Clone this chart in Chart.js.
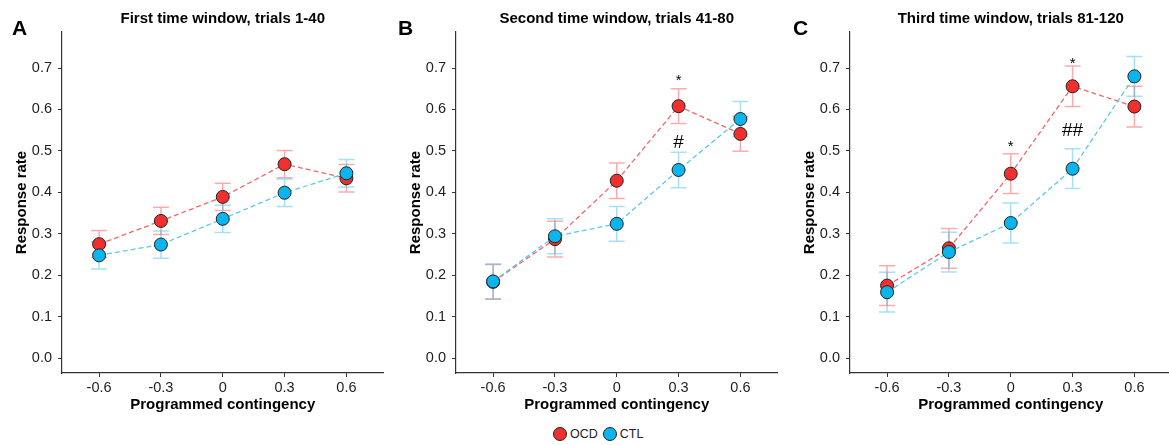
<!DOCTYPE html>
<html>
<head>
<meta charset="utf-8">
<script src="https://cdn.jsdelivr.net/npm/chart.js@4.4.1/dist/chart.umd.min.js"></script>
<style>
  body { margin: 0; width: 1169px; height: 445px; overflow: hidden; background: #fff; position: relative;
         font-family: "Liberation Sans", Arial, sans-serif; }
  .panel { position: absolute; top: 0; width: 391px; height: 420px; }
  .legend { position: absolute; left: 553px; top: 427px; height: 14px; display: flex; align-items: center;
            font-size: 12.5px; color: #222; }
  .dot { width: 12px; height: 12px; border-radius: 50%; border: 1px solid #222; margin-right: 3px; }
  .legend span.txt { margin-right: 5px; }
</style>
</head>
<body>
<div class="panel" style="left:0px"><canvas id="chartA" width="391" height="420"></canvas></div>
<div class="panel" style="left:394px"><canvas id="chartB" width="391" height="420"></canvas></div>
<div class="panel" style="left:788px"><canvas id="chartC" width="391" height="420"></canvas></div>
<div class="legend">
  <div class="dot" style="background:#F0302F"></div><span class="txt">OCD</span>
  <div class="dot" style="background:#0AB4EC"></div><span class="txt">CTL</span>
</div>
<script>
// x values and tick labels
const contingency = [-0.6, -0.3, 0, 0.3, 0.6];
const xTicks = [-0.6, -0.3, 0, 0.3, 0.6];
const xTickLabels = ['-0.6', '-0.3', '0', '0.3', '0.6'];
const yTicks = [0, 0.1, 0.2, 0.3, 0.4, 0.5, 0.6, 0.7];
const yTickLabels = ['0.0', '0.1', '0.2', '0.3', '0.4', '0.5', '0.6', '0.7'];

// panel A: trials 1-40
const ocdA = [0.275, 0.331, 0.389, 0.468, 0.434];
const ocdErrA = [0.033, 0.033, 0.033, 0.033, 0.033];
const ctlA = [0.248, 0.274, 0.336, 0.399, 0.446];
const ctlErrA = [0.033, 0.033, 0.033, 0.033, 0.033];

// panel B: trials 41-80
const ocdB = [0.184, 0.287, 0.428, 0.608, 0.541];
const ocdErrB = [0.042, 0.043, 0.043, 0.042, 0.042];
const ctlB = [0.185, 0.294, 0.324, 0.454, 0.577];
const ctlErrB = [0.042, 0.042, 0.042, 0.043, 0.042];

// panel C: trials 81-120
const ocdC = [0.175, 0.265, 0.445, 0.656, 0.607];
const ocdErrC = [0.048, 0.048, 0.048, 0.049, 0.049];
const ctlC = [0.159, 0.256, 0.326, 0.457, 0.680];
const ctlErrC = [0.048, 0.048, 0.048, 0.048, 0.048];

// significance marks
const notesB = ['*', '#'];
const notesXB = [0.3, 0.3];
const notesYB = [0.677, 0.523];
const notesC = ['*', '*', '##'];
const notesXC = [0, 0.3, 0.3];
const notesYC = [0.517, 0.718, 0.551];

const OCD_FILL = '#F0302F', CTL_FILL = '#0AB4EC';
const OCD_LINE = '#F26868', CTL_LINE = '#5CC8EE';
const OCD_ERR = 'rgba(240, 70, 70, 0.45)', CTL_ERR = 'rgba(40, 180, 235, 0.42)';
const FONT = '"Liberation Sans", Arial, sans-serif';

function toPoints(vals) {
    return vals.map((v, i) => ({ x: contingency[i], y: v }));
}

function makePanel(id, p) {
    const decor = {
        id: 'decor',
        beforeDatasetsDraw(chart) {
            const { ctx, scales: { x, y } } = chart;
            ctx.save();
            ctx.lineWidth = 1.5;
            [[p.ocd, p.ocdErr, OCD_ERR], [p.ctl, p.ctlErr, CTL_ERR]].forEach(([means, errs, col]) => {
                ctx.strokeStyle = col;
                means.forEach((m, i) => {
                    const px = x.getPixelForValue(contingency[i]);
                    const hi = y.getPixelForValue(m + errs[i]);
                    const lo = y.getPixelForValue(m - errs[i]);
                    ctx.beginPath();
                    ctx.moveTo(px, hi); ctx.lineTo(px, lo);
                    ctx.moveTo(px - 8, hi); ctx.lineTo(px + 8, hi);
                    ctx.moveTo(px - 8, lo); ctx.lineTo(px + 8, lo);
                    ctx.stroke();
                });
            });
            ctx.restore();
        },
        afterDraw(chart) {
            const { ctx, chartArea, scales: { x, y } } = chart;
            ctx.save();
            ctx.fillStyle = '#000';
            ctx.textAlign = 'center';
            ctx.textBaseline = 'middle';
            ctx.font = 'bold 15px ' + FONT;
            ctx.fillText(p.title, (chartArea.left + chartArea.right) / 2, 19);
            ctx.textAlign = 'left';
            ctx.textBaseline = 'alphabetic';
            ctx.font = 'bold 21px ' + FONT;
            ctx.fillText(p.letter, p.letterX, 35);
            ctx.textAlign = 'center';
            (p.notes || []).forEach((t, i) => {
                ctx.font = (t === '*' ? '15px ' : '19px ') + FONT;
                const m = ctx.measureText(t);
                const px = x.getPixelForValue(p.notesX[i]);
                const py = y.getPixelForValue(p.notesY[i]);
                ctx.fillText(t, px, py + (m.actualBoundingBoxAscent - m.actualBoundingBoxDescent) / 2);
            });
            ctx.restore();
        }
    };

    return new Chart(document.getElementById(id), {
        type: 'line',
        data: {
            datasets: [
                {
                    label: 'OCD', data: toPoints(p.ocd), order: 1,
                    borderColor: OCD_LINE, borderWidth: 1.3, borderDash: [5, 3],
                    pointRadius: 6.5, pointBackgroundColor: OCD_FILL, pointBorderColor: '#222', pointBorderWidth: 1
                },
                {
                    label: 'CTL', data: toPoints(p.ctl), order: 0,
                    borderColor: CTL_LINE, borderWidth: 1.3, borderDash: [5, 3],
                    pointRadius: 6.5, pointBackgroundColor: CTL_FILL, pointBorderColor: '#222', pointBorderWidth: 1
                }
            ]
        },
        options: {
            responsive: false,
            animation: false,
            devicePixelRatio: 1,
            layout: { padding: { top: 32, right: 0, bottom: 0, left: 0 } },
            plugins: { legend: { display: false }, tooltip: { enabled: false } },
            scales: {
                x: {
                    type: 'linear', min: -0.78, max: 0.78,
                    afterBuildTicks: s => { s.ticks = xTicks.map(v => ({ value: v })); },
                    afterFit: s => { s.height = 47; },
                    ticks: { callback: (v, i) => xTickLabels[i], font: { family: FONT, size: 14.5 }, color: '#1e1e1e', padding: 2, maxRotation: 0, autoSkip: false },
                    grid: { display: true, drawOnChartArea: false, drawTicks: true, tickLength: 4, color: '#333', lineWidth: 1 },
                    border: { display: true, color: '#333', width: 1.2 },
                    title: { display: true, text: 'Programmed contingency', color: '#000', font: { family: FONT, size: 15, weight: 'bold' }, padding: { top: 0, bottom: 6 } }
                },
                y: {
                    min: -0.036, max: 0.787,
                    afterBuildTicks: s => { s.ticks = yTicks.map(v => ({ value: v })); },
                    afterFit: s => { s.width = 62; },
                    ticks: { callback: (v, i) => yTickLabels[i], font: { family: FONT, size: 14.5 }, color: '#1e1e1e', padding: 6, autoSkip: false },
                    grid: { display: true, drawOnChartArea: false, drawTicks: true, tickLength: 4, color: '#333', lineWidth: 1 },
                    border: { display: true, color: '#333', width: 1.2 },
                    title: { display: true, text: 'Response rate', color: '#000', font: { family: FONT, size: 15, weight: 'bold' }, padding: { top: 13, bottom: 0 } }
                }
            }
        },
        plugins: [decor]
    });
}

makePanel('chartA', { letter: 'A', letterX: 12, title: 'First time window, trials 1-40',
    ocd: ocdA, ocdErr: ocdErrA, ctl: ctlA, ctlErr: ctlErrA });
makePanel('chartB', { letter: 'B', letterX: 4, title: 'Second time window, trials 41-80',
    ocd: ocdB, ocdErr: ocdErrB, ctl: ctlB, ctlErr: ctlErrB, notes: notesB, notesX: notesXB, notesY: notesYB });
makePanel('chartC', { letter: 'C', letterX: 5, title: 'Third time window, trials 81-120',
    ocd: ocdC, ocdErr: ocdErrC, ctl: ctlC, ctlErr: ctlErrC, notes: notesC, notesX: notesXC, notesY: notesYC });
</script>
</body>
</html>
